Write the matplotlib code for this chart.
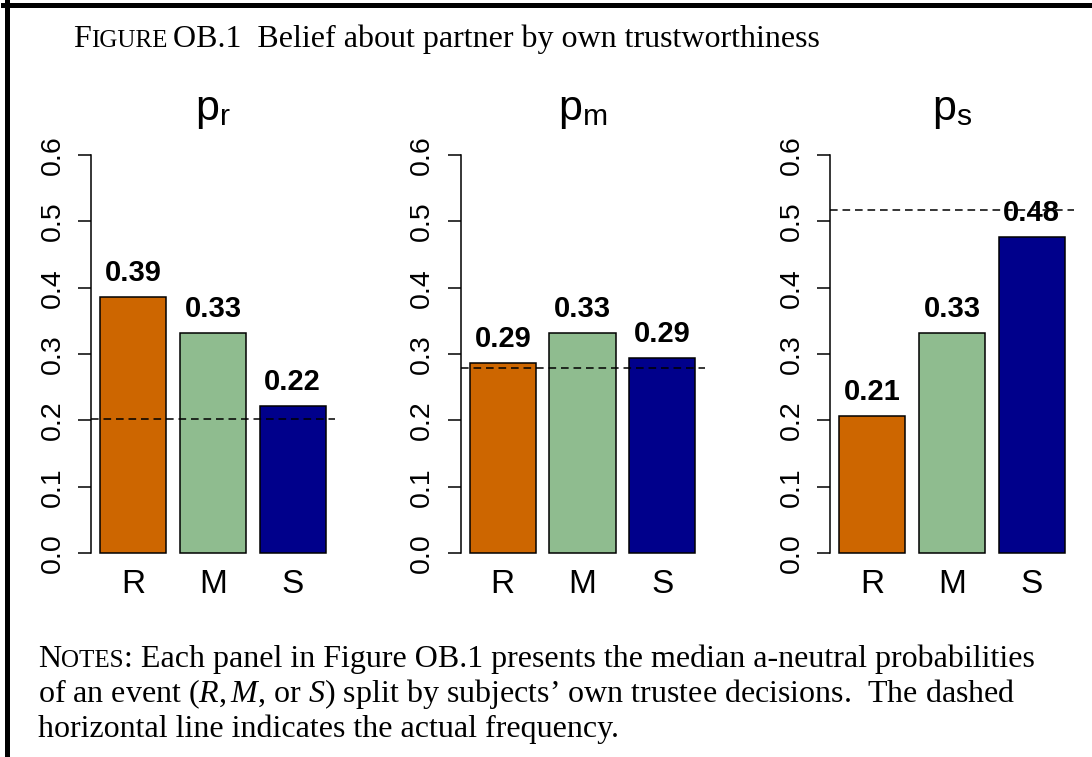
import matplotlib
matplotlib.use("Agg")
import matplotlib.pyplot as plt
from matplotlib.lines import Line2D

plt.rcParams['font.family'] = 'Liberation Sans'
plt.rcParams['mathtext.fontset'] = 'custom'
plt.rcParams['mathtext.sf'] = 'Liberation Sans'
plt.rcParams['mathtext.rm'] = 'Liberation Serif'
plt.rcParams['mathtext.it'] = 'Liberation Serif:italic'
plt.rcParams['lines.scale_dashes'] = False

# data
groups = ["R", "M", "S"]
panel_titles = [r"$\mathsf{p}_\mathsf{r}$", r"$\mathsf{p}_\mathsf{m}$", r"$\mathsf{p}_\mathsf{s}$"]
beliefs_pr = [0.386, 0.332, 0.222]
beliefs_pm = [0.286, 0.332, 0.294]
beliefs_ps = [0.206, 0.332, 0.476]
actual_freq = [0.202, 0.279, 0.517]
bar_colors = ["#CD6600", "#8FBC8F", "#00008B"]
yticks = [0.0, 0.1, 0.2, 0.3, 0.4, 0.5, 0.6]

W, H = 1092, 757
fig = plt.figure(figsize=(W / 100, H / 100), dpi=100)


def px_axes(left, top, right, bottom):
    return fig.add_axes([left / W, 1 - bottom / H, (right - left) / W, (bottom - top) / H])


centers = [0.7, 1.9, 3.1]
panels = [beliefs_pr, beliefs_pm, beliefs_ps]
for i, vals in enumerate(panels):
    x0 = 91 + 369.5 * i
    ax = px_axes(x0, 139, x0 + 244, 569)
    ax.set_xlim(0.064, 3.736)
    ax.set_ylim(-0.024, 0.624)
    ax.bar(centers, vals, width=1.0, color=bar_colors, edgecolor="black", linewidth=1.1)
    ax.axhline(actual_freq[i], color="black", lw=1.1, dashes=(5.5, 3.5), zorder=5)
    for c, v in zip(centers, vals):
        ax.annotate(f"{v:.2f}", (c, v), xytext=(0, 11.5), textcoords="offset points",
                    ha="center", va="baseline", fontsize=21, fontweight="bold")
    for s in ["top", "right", "bottom"]:
        ax.spines[s].set_visible(False)
    ax.spines["left"].set_bounds(0, 0.6)
    ax.spines["left"].set_linewidth(1.1)
    ax.set_yticks(yticks)
    ax.set_yticklabels([f"{t:.1f}" for t in yticks], rotation=90, va="center")
    ax.tick_params(axis="y", length=9.4, width=1.1, pad=9, labelsize=20.5)
    ax.set_xticks(centers)
    ax.set_xticklabels(groups)
    ax.tick_params(axis="x", length=0, pad=0, labelsize=24)
    ax.text(0.5, 1 + 19 / 430, panel_titles[i], transform=ax.transAxes,
            ha="center", va="baseline", fontsize=31)

renderer = fig.canvas.get_renderer()


def draw_runs(x, y, runs):
    # place text pieces one after another (for small caps)
    for s, size, gap in runs:
        x += gap
        t = fig.text(x / W, 1 - y / H, s, fontsize=size, family="Liberation Serif",
                     ha="left", va="baseline")
        x = t.get_window_extent(renderer).x1
    return x


draw_runs(73, 47, [("F", 23, 0), ("IGURE", 18, 0),
                   ("OB.1  Belief about partner by own trustworthiness", 23, 6)])
draw_runs(38, 667, [("N", 23, 0), ("OTES", 18, 0),
                    (": Each panel in Figure OB.1 presents the median a-neutral probabilities", 23, 0)])
fig.text(38 / W, 1 - 702 / H,
         "of an event ($R, M$, or $S$) split by subjects\u2019 own trustee decisions.  The dashed",
         fontsize=23, family="Liberation Serif", ha="left", va="baseline")
fig.text(38 / W, 1 - 737 / H, "horizontal line indicates the actual frequency.",
         fontsize=23, family="Liberation Serif", ha="left", va="baseline")

# frame on top and left
fig.add_artist(Line2D([3 / W, 1], [1 - 4.5 / H, 1 - 4.5 / H], transform=fig.transFigure,
                      color="black", lw=3.6))
fig.add_artist(Line2D([6.5 / W, 6.5 / W], [0, 1 - 2 / H], transform=fig.transFigure,
                      color="black", lw=3.6))

fig.savefig("out.png", dpi=100)
